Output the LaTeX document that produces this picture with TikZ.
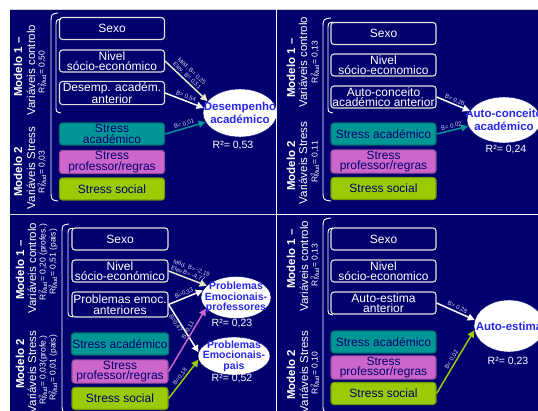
\documentclass[tikz,border=0pt]{standalone}
\usepackage{fontspec}
\setmainfont{Liberation Sans}
\usetikzlibrary{shapes.geometric,arrows.meta}
\definecolor{navy}{RGB}{0,0,110}
\definecolor{tealbox}{RGB}{0,150,150}
\definecolor{orchid}{RGB}{204,102,204}
\definecolor{limebox}{RGB}{153,204,0}
\definecolor{cream}{RGB}{232,232,200}
\definecolor{boxline}{RGB}{228,228,215}
\definecolor{ellblue}{RGB}{40,40,235}
\definecolor{lbltext}{RGB}{215,215,235}

\begin{document}
\begin{tikzpicture}[x=1pt,y=-1pt,
		box/.style={draw=boxline,line width=1.1pt,rounded corners=3pt,fill=navy,text=white,align=center,
			minimum width=105pt,minimum height=22pt,inner sep=1pt,font=\fontsize{12}{10.5}\selectfont},
		sbox/.style={box,fill=#1,draw=#1!75!black,text=navy},
		outc/.style={ellipse,fill=white,draw=navy,inner sep=-14pt,text=ellblue,align=center,
			font=\bfseries\fontsize{11.5}{13}\selectfont},
		arr/.style={-{Triangle[length=7pt,width=7pt]},line width=1.5pt,draw=#1},
		lbl/.style={font=\fontsize{6}{6.5}\selectfont,text=lbltext,sloped,above,inner sep=1pt,align=left},
		mtit/.style={rotate=90,text=white,font=\bfseries\fontsize{11.5}{12}\selectfont},
		mvar/.style={rotate=90,text=white,font=\fontsize{11.5}{12}\selectfont},
		mr2/.style={rotate=90,text=white,font=\fontsize{8.5}{9}\selectfont},
		rsq/.style={text=white,font=\fontsize{10.5}{11}\selectfont},
		brk/.style={draw=white,line width=0.9pt}]
	\useasboundingbox (0,0) rectangle (538,411);
	\fill[navy] (10,9) rectangle (538,411);
	\draw[gray!40,line width=0.8pt] (10,9) -- (538,9);

	% desempenho academico
	\node[box] (tl-sexo) at (112,28.5) {Sexo};
	\node[box] (tl-nivel) at (112,61) {Nivel\\sócio-económico};
	\node[box] (tl-ant) at (112,93) {Desemp. académ.\\anterior};
	\node[sbox=tealbox] (tl-sac) at (112,134) {Stress\\académico};
	\node[sbox=orchid] (tl-spr) at (112,162) {Stress\\professor/regras};
	\node[sbox=limebox] (tl-ssoc) at (112,189) {Stress social};
	\node[outc,minimum width=74pt,minimum height=48pt] (tl-out) at (240,113) {Desempenho\\académico};
	\node[rsq] (tl-r2) at (233,146) {R²= 0,53};
	\node[mtit] (tl-m1) at (18,67) {Modelo 1 –};
	\node[mvar] (tl-v1) at (31,70) {Variáveis controlo};
	\node[mr2] (tl-r1) at (42,72) {R\rlap{\textsuperscript{2}}\textsubscript{Mud}= 0,50};
	\node[mtit] (tl-m2) at (18,172) {Modelo 2};
	\node[mvar] (tl-v2) at (31,168) {Variáveis Stress};
	\node[mr2] (tl-r22) at (42,172) {R\rlap{\textsuperscript{2}}\textsubscript{Mud}= 0,03};
	\draw[brk] (58,13) .. controls (51,14) .. (51,24) -- (51,190) .. controls (51,200) .. (58,201);
	\draw[brk] (61,19) .. controls (56,20) .. (56,27) -- (56,105) .. controls (56,112) .. (61,113);
	\path
	(tl-nivel.east) edge[arr=cream] node[lbl,pos=0.45] {Méd. B= 0,25\\Elev. B= 0,51} (tl-out.160)
	(tl-ant.east) edge[arr=white] node[lbl] {B= 0,54} (tl-out.172)
	(tl-sac.east) edge[arr=tealbox] node[lbl] {B= 0,01} (tl-out.195);

	% auto-conceito academico
	\node[box] (tr-sexo) at (383.5,33.5) {Sexo};
	\node[box] (tr-nivel) at (383.5,65) {Nivel\\sócio-economico};
	\node[box] (tr-ant) at (383.5,97) {Auto-conceito\\académico anterior};
	\node[sbox=tealbox] (tr-sac) at (383.5,134) {Stress académico};
	\node[sbox=orchid] (tr-spr) at (383.5,161.5) {Stress\\professor/regras};
	\node[sbox=limebox] (tr-ssoc) at (383.5,188.5) {Stress social};
	\node[outc,minimum width=74pt,minimum height=46pt] (tr-out) at (504,120) {Auto-conceito\\académico};
	\node[rsq] (tr-r2) at (506,150) {R²= 0,24};
	\node[mtit] (tr-m1) at (291,68) {Modelo 1 –};
	\node[mvar] (tr-v1) at (303,62) {Variáveis controlo};
	\node[mr2] (tr-r1) at (315,62) {R\rlap{\textsuperscript{2}}\textsubscript{Mud}= 0,13};
	\node[mtit] (tr-m2) at (291,166) {Modelo 2};
	\node[mvar] (tr-v2) at (303,163) {Variáveis Stress};
	\node[mr2] (tr-r22) at (315,162) {R\rlap{\textsuperscript{2}}\textsubscript{Mud}= 0,11};
	\draw[brk] (331,18) .. controls (323,19) .. (323,29) -- (323,190) .. controls (323,200) .. (331,201);
	\draw[brk] (333,22) .. controls (328,23) .. (328,30) -- (328,105) .. controls (328,112) .. (333,113);
	\path
	(tr-ant.east) edge[arr=white] node[lbl] {B= 0,26} (tr-out.165)
	(tr-sac.east) edge[arr=tealbox] node[lbl] {B= 0,02} (tr-out.190);

	% problemas emocionais
	\node[box,minimum width=96pt] (bl-sexo) at (120,239) {Sexo};
	\node[box,minimum width=96pt] (bl-nivel) at (120,271) {Nivel\\sócio-económico};
	\node[box,minimum width=96pt,minimum height=25pt] (bl-ant) at (120,304.5) {Problemas emoc.\\anteriores};
	\node[sbox=tealbox,minimum width=96pt] (bl-sac) at (120,344) {Stress académico};
	\node[sbox=orchid,minimum width=96pt] (bl-spr) at (120,371.5) {Stress\\professor/regras};
	\node[sbox=limebox,minimum width=96pt] (bl-ssoc) at (120,398.5) {Stress social};
	\node[outc,minimum width=70pt,minimum height=42pt,font=\bfseries\fontsize{10.5}{10.5}\selectfont] (bl-prof) at (236,297.5) {Problemas\\Emocionais-\\professores};
	\node[outc,minimum width=72pt,minimum height=38pt,font=\bfseries\fontsize{10.5}{10.5}\selectfont] (bl-pais) at (234,356) {Problemas\\Emocionais-\\pais};
	\node[rsq] (bl-r2a) at (232,324) {R²= 0,23};
	\node[rsq] (bl-r2b) at (232,379) {R²= 0,52};
	\node[mtit] (bl-m1) at (20,270) {Modelo 1 –};
	\node[mvar] (bl-v1) at (32,268) {Variáveis controlo};
	\node[mr2] (bl-r1) at (43,262) {R\rlap{\textsuperscript{2}}\textsubscript{Mud}= 0,20 (profes.)};
	\node[mr2] (bl-r1b) at (53,262) {R\rlap{\textsuperscript{2}}\textsubscript{Mud}= 0,51 (pais)};
	\node[mtit] (bl-m2) at (20,364) {Modelo 2};
	\node[mvar] (bl-v2) at (32,372) {Variáveis Stress};
	\node[mr2] (bl-r22) at (43,370) {R\rlap{\textsuperscript{2}}\textsubscript{Mud}= 0,03(profe.)};
	\node[mr2] (bl-r22b) at (53,368) {R\rlap{\textsuperscript{2}}\textsubscript{Mud}= 0,01 (pais)};
	\draw[brk] (69,224) .. controls (62,225) .. (62,235) -- (62,404) .. controls (62,412) .. (69,413);
	\draw[brk] (73,228) .. controls (68,229) .. (68,236) -- (68,309) .. controls (68,316) .. (73,317);
	\path
	(bl-nivel.east) edge[arr=cream] node[lbl] {Méd. B= -2,19\\Elev.B= -4,77} (bl-prof.158)
	(bl-ant.east) edge[arr=white] node[lbl] {B=0,33} (bl-prof.168)
	(bl-ant.east) edge[arr=white] node[lbl,below,pos=0.35] {B=0,47} (bl-pais.174)
	(bl-spr.east) edge[arr=orchid] node[lbl,pos=0.62] {B=0,11} (bl-prof.200)
	(bl-ssoc.east) edge[arr=limebox] node[lbl] {B=0,18} (bl-pais.186);

	% auto-estima
	\node[box] (br-sexo) at (383.5,239) {Sexo};
	\node[box] (br-nivel) at (383.5,271) {Nivel\\sócio-economico};
	\node[box] (br-ant) at (383.5,303) {Auto-estima\\anterior};
	\node[sbox=tealbox] (br-sac) at (383.5,342) {Stress académico};
	\node[sbox=orchid] (br-spr) at (383.5,367.5) {Stress\\professor/regras};
	\node[sbox=limebox] (br-ssoc) at (383.5,393.5) {Stress social};
	\node[outc,minimum width=70pt,minimum height=52pt] (br-out) at (509,326) {Auto-estima};
	\node[rsq] (br-r2) at (508,362) {R²= 0,23};
	\node[mtit] (br-m1) at (291,259) {Modelo 1 –};
	\node[mvar] (br-v1) at (304,266) {Variáveis controlo};
	\node[mr2] (br-r1) at (315,265) {R\rlap{\textsuperscript{2}}\textsubscript{Mud}= 0,13};
	\node[mtit] (br-m2) at (291,375) {Modelo 2};
	\node[mvar] (br-v2) at (304,372) {Variáveis Stress};
	\node[mr2] (br-r22) at (315,373) {R\rlap{\textsuperscript{2}}\textsubscript{Mud}= 0,10};
	\draw[brk] (331,218) .. controls (323,219) .. (323,229) -- (323,404) .. controls (323,412) .. (331,413);
	\draw[brk] (333,228) .. controls (328,229) .. (328,236) -- (328,307) .. controls (328,314) .. (333,315);
	\path
	(br-ant.east) edge[arr=white] node[lbl] {B= 0,28} (br-out.170)
	(br-ssoc.east) edge[arr=limebox] node[lbl] {B= 0,02} (br-out.187);

	\draw[white,line width=1.5pt] (276.5,9) -- (276.5,411);
	\draw[gray!30,line width=1.5pt] (10,214.5) -- (276.5,214.5);
	\draw[white,line width=1.5pt] (276.5,214.5) -- (538,214.5);
\end{tikzpicture}
\end{document}
